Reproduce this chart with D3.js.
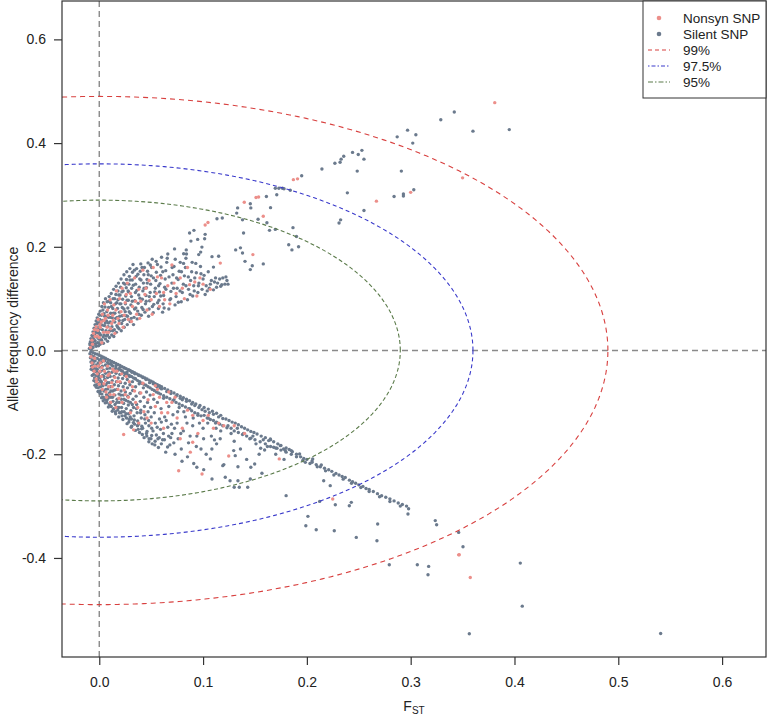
<!DOCTYPE html>
<html><head><meta charset="utf-8">
<script src="https://cdn.jsdelivr.net/npm/d3@7"></script>
<style>
body{margin:0;background:#fff;}
svg{display:block;font-family:"Liberation Sans",Arial,sans-serif;}
</style></head>
<body><svg id="chart" width="768" height="720"></svg>
<script>
// ---------- DATA ----------
const xTicks = [0.0, 0.1, 0.2, 0.3, 0.4, 0.5, 0.6];
const yTicks = [-0.4, -0.2, 0.0, 0.2, 0.4, 0.6];
const levelNames = ["99%", "97.5%", "95%"];
const levelRadii = [0.49, 0.36, 0.29];
const seriesNames = ["Nonsyn SNP", "Silent SNP"];

const silentUpper = [
[-.0095,.004],[-.009,.011],[-.0085,.017],[-.008,.023],[-.0075,.009],[-.007,.029],[-.0065,.016],[-.006,.036],[-.006,.006],[-.0055,.024],[-.005,.043],[-.005,.012],[-.0045,.031],[-.004,.05],[-.004,.019],[-.0035,.038],[-.003,.057],[-.003,.008],[-.0025,.026],[-.002,.045],[-.002,.063],[-.0015,.015],[-.001,.034],[-.001,.053],[-.0005,.07],[-.0005,.022],
[0,.041],[.0005,.06],[.0008,.012],[.001,.076],[.0012,.03],[.0015,.05],[.002,.068],[.0022,.02],[.0025,.085],[.003,.04],[.0032,.058],[.0035,.078],[.004,.014],[.004,.092],[.0045,.03],[.005,.048],[.0052,.066],[.0055,.084],[.006,.022],[.006,.1],[.0065,.038],[.007,.057],[.0072,.075],[.0075,.094],[.008,.018],[.008,.03],[.0085,.046],[.009,.064],[.009,.083],[.0095,.104],[.0098,.025],
[.010,.038],[.0105,.055],[.011,.072],[.011,.092],[.0115,.11],[.012,.03],[.0122,.046],[.0125,.063],[.013,.081],[.0133,.1],[.0138,.118],[.014,.027],[.0145,.04],[.015,.055],[.015,.072],[.0155,.09],[.016,.108],[.0162,.124],[.0165,.035],[.017,.048],[.0172,.064],[.0175,.081],[.018,.098],[.018,.115],[.0185,.13],[.019,.042],[.0192,.058],[.0195,.074],[.0198,.09],
[.020,.107],[.0205,.122],[.021,.138],[.0212,.038],[.0215,.052],[.022,.067],[.0222,.083],[.0225,.099],[.023,.115],[.0233,.13],[.0238,.146],[.024,.045],[.0245,.06],[.025,.075],[.0252,.09],[.0255,.105],[.026,.121],[.0262,.137],[.0265,.152],[.027,.05],[.0272,.066],[.0275,.082],[.028,.097],[.0282,.113],[.0285,.128],[.029,.143],[.0295,.158],[.0298,.056],
[.030,.072],[.0305,.088],[.031,.104],[.0312,.12],[.0318,.136],[.032,.151],[.0325,.166],[.033,.05],[.0335,.064],[.034,.08],[.0342,.096],[.0348,.112],[.035,.128],[.0355,.143],[.036,.158],[.0365,.061],[.037,.076],[.0375,.091],[.038,.107],[.0385,.122],[.039,.138],[.0395,.153],[.04,.167],[.0405,.068],[.041,.083],[.0415,.099],[.042,.115],[.0425,.13],[.043,.146],[.0435,.16],[.044,.074],[.0445,.09],
[.045,.106],[.0455,.121],[.046,.137],[.0465,.153],[.047,.169],[.0475,.066],[.048,.08],[.0485,.096],[.049,.112],[.0495,.128],[.05,.144],[.0505,.16],[.051,.176],[.052,.073],[.0525,.089],[.053,.104],[.054,.12],[.0545,.135],[.055,.151],[.056,.166],[.057,.081],[.0575,.097],[.058,.113],[.0585,.129],[.059,.145],[.0595,.161],
[.06,.18],[.061,.074],[.0615,.09],[.062,.106],[.063,.122],[.0635,.138],[.064,.154],[.065,.17],[.066,.186],[.067,.08],[.068,.098],[.069,.114],[.07,.13],[.071,.146],[.072,.162],[.0725,.196],[.073,.088],[.074,.104],[.075,.12],[.076,.137],[.077,.153],[.078,.17],[.079,.094],
[.08,.112],[.081,.128],[.082,.144],[.083,.16],[.084,.186],[.085,.098],[.086,.118],[.088,.135],[.089,.152],[.09,.105],[.091,.125],[.092,.14],[.093,.168],[.095,.112],[.096,.13],[.098,.148],[.099,.118],[.1,.138],
[.102,.108],[.103,.125],[.105,.152],[.106,.12],[.108,.135],[.11,.117],[.112,.14],[.114,.13],[.117,.124],[.119,.14],[.121,.128],[.123,.135],
[-.0088,.014],[-.0072,.004],[-.0062,.021],[-.0048,.027],[-.0036,.013],[-.0028,.035],[-.0018,.052],[-.0008,.009],[.0003,.033],[.0015,.021],[.0028,.049],[.0038,.026],[.0046,.071],[.0058,.053],[.0068,.028],[.0078,.066],[.0088,.053],[.0092,.095],[.0108,.064],[.0118,.085],[.0128,.038],[.0136,.072],[.0148,.1],[.0158,.062],[.0168,.092],[.0178,.045],[.0188,.107],[.0197,.066],[.0208,.09],[.0218,.113],[.0228,.058],[.0238,.08],[.0248,.128],[.0258,.067],[.0268,.097],[.0278,.115],[.0288,.075],[.0296,.136],[.0308,.062],[.0318,.095],[.0328,.126],[.0338,.155],[.0352,.082],[.0362,.116],[.0372,.147],[.0382,.07],[.0392,.101],[.0402,.136],[.0412,.16],[.0422,.079],[.0432,.12],[.0452,.095],[.0462,.13],[.0472,.146],[.0482,.104],[.0492,.165],[.0512,.085],[.0522,.14],[.0535,.113],[.0548,.172],[.0562,.092],[.0572,.125],[.0592,.105],[.0612,.152],[.0625,.082],[.0642,.118],[.0655,.178],[.0672,.142],[.0688,.1],[.0702,.16],[.0715,.12],[.0732,.176],[.0745,.14],[.0762,.093],[.0778,.115],[.0792,.152],[.0812,.168],[.0835,.125],[.0858,.142],[.0875,.108],[.0895,.17],[.0915,.115],[.0935,.15],[.0955,.125],[.0975,.162],[.101,.145],[.104,.115],[.107,.128],[.111,.132],[.113,.122],[.116,.138],[.118,.127],[.122,.142],[.124,.128]
];
const silentUpperFar = [
[.342,.46],[.329,.445],[.360,.423],[.395,.426],[.287,.412],[.297,.425],[.305,.416],[.302,.4],[.291,.346],[.303,.31],[.293,.302],[.293,.298],[.284,.297],[.255,.27],[.239,.304],[.2325,.252],[.231,.246],[.2485,.346],[.244,.382],[.2495,.378],[.253,.386],[.255,.369],[.2355,.3745],[.233,.369],[.232,.363],[.227,.361],[.2145,.35],[.195,.337],[.1696,.313],[.173,.313],[.1765,.313],[.178,.312],[.171,.3005],[.184,.309],[.161,.297],[.1455,.283],[.146,.275],[.1333,.275],[.1324,.265],[.165,.2755],[.138,.252],[.153,.253],[.1615,.2465],[.1696,.2336],[.164,.2317],[.1866,.2369],[.19,.22],[.1825,.204],[.1856,.194],[.192,.2],[.139,.2265],[.1314,.194],[.136,.198],[.138,.188],[.1404,.172],[.158,.167],[.1474,.1635],[.1455,.156],[.1134,.254],[.1185,.2555],[.0912,.2317],[.087,.2265],[.102,.224],[.1015,.2156],[.0948,.2143],[.0883,.211],[.1086,.181],[.115,.1817],[.11,.1609],[.0977,.1898],[.0958,.185],[.0989,.1994],[.0838,.194],[.0813,.1866],[.0835,.178]
];
const silentLower = [
[-.008,-.002],[-.006,-.004],[-.004,-.006],[-.002,-.007],[0,-.009],[.002,-.011],[.004,-.013],[.006,-.015],[.008,-.017],[.010,-.019],[.012,-.021],[.014,-.023],[.016,-.025],[.018,-.027],[.020,-.029],[.022,-.031],[.024,-.033],[.026,-.035],[.028,-.037],[.030,-.039],[.032,-.041],[.034,-.043],[.036,-.045],[.038,-.047],[.040,-.049],[.042,-.051],[.044,-.053],[.046,-.055],[.048,-.057],[.05,-.059],[.052,-.061],[.054,-.064],[.056,-.066],[.058,-.068],[.06,-.07],[.063,-.073],[.066,-.076],[.069,-.079],[.072,-.082],[.075,-.085],[.078,-.088],[.081,-.091],[.084,-.094],[.087,-.097],[.09,-.1],[.093,-.103],[.097,-.106],[.101,-.11],[.105,-.113],[.109,-.117],[.113,-.121],[.117,-.125],
[-.009,-.006],[-.0085,-.014],[-.008,-.022],[-.0075,-.03],[-.007,-.01],[-.0065,-.018],[-.006,-.038],[-.006,-.026],[-.0055,-.046],[-.005,-.012],[-.005,-.033],[-.0045,-.053],[-.004,-.02],[-.004,-.04],[-.0035,-.06],[-.003,-.028],[-.003,-.048],[-.0025,-.066],[-.002,-.015],[-.002,-.036],[-.0015,-.056],[-.001,-.072],[-.001,-.024],[-.0005,-.044],[-.0005,-.064],
[0,-.018],[.0003,-.032],[.0006,-.052],[.001,-.078],[.0012,-.07],[.0015,-.04],[.002,-.06],[.0022,-.022],[.0025,-.084],[.003,-.03],[.0032,-.048],[.0035,-.068],[.004,-.09],[.0042,-.038],[.0045,-.078],[.005,-.02],[.0052,-.056],[.0055,-.094],[.006,-.028],[.006,-.044],[.0065,-.066],[.007,-.085],[.0072,-.1],[.0075,-.035],[.008,-.052],[.0082,-.074],[.0085,-.092],[.009,-.026],[.009,-.042],[.0095,-.062],[.0098,-.104],[.0099,-.082],
[.0102,-.034],[.0105,-.05],[.011,-.07],[.0112,-.09],[.0115,-.108],[.012,-.028],[.0122,-.042],[.0125,-.058],[.013,-.078],[.0132,-.098],[.0135,-.113],[.014,-.036],[.0142,-.05],[.0145,-.066],[.015,-.086],[.0152,-.104],[.0155,-.118],[.016,-.03],[.0162,-.044],[.0165,-.06],[.017,-.075],[.0172,-.094],[.0175,-.11],[.018,-.038],[.0182,-.053],[.0185,-.068],[.019,-.084],[.0192,-.1],[.0195,-.12],[.0198,-.046],
[.0202,-.032],[.0205,-.062],[.021,-.078],[.0212,-.094],[.0215,-.11],[.022,-.126],[.0222,-.04],[.0225,-.054],[.023,-.07],[.0232,-.086],[.0235,-.102],[.024,-.118],[.0242,-.034],[.0245,-.048],[.025,-.063],[.0252,-.08],[.0255,-.096],[.026,-.112],[.0262,-.13],[.0265,-.042],[.027,-.056],[.0272,-.072],[.0275,-.088],[.028,-.105],[.0282,-.122],[.0285,-.138],[.029,-.038],[.0292,-.05],[.0295,-.066],[.0298,-.083],
[.030,-.1],[.0305,-.116],[.031,-.132],[.0312,-.146],[.0315,-.042],[.032,-.06],[.0322,-.077],[.0325,-.094],[.033,-.11],[.0335,-.126],[.034,-.142],[.0342,-.045],[.0345,-.054],[.035,-.07],[.0355,-.088],[.036,-.104],[.0365,-.12],[.037,-.136],[.0375,-.152],[.038,-.048],[.0385,-.064],[.039,-.082],[.0395,-.098],[.04,-.115],[.0405,-.13],[.041,-.146],[.0415,-.162],[.042,-.052],[.0425,-.072],[.043,-.09],[.0435,-.108],[.044,-.124],[.0445,-.14],
[.045,-.056],[.0455,-.08],[.046,-.156],[.0465,-.1],[.047,-.118],[.0475,-.135],[.048,-.17],[.0485,-.062],[.049,-.086],[.0495,-.11],[.05,-.128],[.0505,-.15],[.051,-.18],[.052,-.064],[.0525,-.094],[.053,-.12],[.054,-.14],[.055,-.163],[.0555,-.07],[.056,-.1],[.057,-.187],[.058,-.132],[.0585,-.072],[.059,-.152],[.0595,-.112],
[.06,-.074],[.061,-.172],[.062,-.092],[.063,-.128],[.064,-.196],[.065,-.079],[.066,-.148],[.067,-.108],[.068,-.182],[.069,-.083],[.07,-.16],[.071,-.124],[.072,-.095],[.073,-.2],[.074,-.088],[.075,-.14],[.076,-.17],[.077,-.11],[.078,-.092],[.079,-.19],
[.08,-.095],[.081,-.155],[.083,-.128],[.084,-.098],[.085,-.205],[.086,-.178],[.087,-.112],[.089,-.103],[.09,-.145],[.091,-.218],[.092,-.106],[.094,-.165],[.095,-.125],[.096,-.11],[.098,-.19],[.099,-.114],[.1,-.15],[.102,-.117],[.103,-.2],[.105,-.13],[.106,-.12],[.108,-.165],[.11,-.123],[.112,-.14],[.113,-.18],[.115,-.128],[.117,-.155],[.119,-.131],[.12,-.22],
[.122,-.132],[.124,-.145],[.125,-.135],[.127,-.16],[.128,-.138],[.13,-.175],[.131,-.14],[.133,-.15],[.134,-.143],[.136,-.19],[.137,-.147],[.139,-.16],[.14,-.15],[.142,-.21],[.143,-.153],[.145,-.17],[.146,-.156],[.148,-.165],[.149,-.158],[.151,-.18],[.152,-.161],[.154,-.2],[.156,-.165],[.158,-.172],[.16,-.168],[.162,-.185],[.165,-.172],[.168,-.176],[.17,-.2],[.172,-.18],[.175,-.183],[.178,-.21],[.18,-.188],[.183,-.191],[.186,-.195],[.19,-.2],[.194,-.205],[.197,-.208],
[.2,-.21],[.205,-.213],[.209,-.22],[.213,-.224],[.217,-.227],[.221,-.23],[.224,-.233],[.228,-.237],[.231,-.24],[.234,-.243],[.237,-.245],[.241,-.25],[.244,-.253],[.247,-.256],[.25,-.259],[.254,-.262],[.257,-.266],[.26,-.268],[.264,-.272],[.268,-.276],[.272,-.28],[.276,-.283],[.28,-.286],[.284,-.29],[.288,-.294],[.292,-.297],[.296,-.3],[.298,-.305],
[.002,-.016],[.005,-.019],[.008,-.023],[.011,-.025],[.013,-.03],[.016,-.034],[.019,-.035],[.021,-.038],[.023,-.042],[.025,-.044],[.027,-.046],[.029,-.048],[.031,-.05],[.033,-.053],[.035,-.055],[.037,-.058],[.039,-.06],[.041,-.063],[.043,-.065],[.045,-.067],[.047,-.07],[.049,-.072],[.051,-.075],[.053,-.077],[.055,-.08],[.057,-.082],[.059,-.084],[.062,-.087],[.065,-.09],[.068,-.093],[.071,-.097],[.074,-.1],[.077,-.103],[.08,-.106],[.083,-.109],[.086,-.112],[.089,-.116],[.092,-.12],[.095,-.122],[.098,-.126],[.101,-.125],[.104,-.13],[.107,-.133],[.11,-.135],[.113,-.138],[.116,-.142],[.119,-.145],[.123,-.149],[.127,-.15],[.13,-.155],[.134,-.158],[.138,-.162],[.142,-.165],[.146,-.169],[.15,-.172],[.155,-.176],[.16,-.18],[.165,-.185],[.17,-.188],[.175,-.192],[.18,-.196],[.185,-.2],[.19,-.205],[.196,-.212],[.203,-.218],[.21,-.224],[.218,-.232],[.226,-.24],[.235,-.248],[.243,-.256],[.252,-.264],[.26,-.272],[.27,-.282],[.28,-.291],[.29,-.3],
[-.0078,-.036],[-.0068,-.048],[-.0052,-.058],[-.0042,-.067],[-.0028,-.071],[-.0012,-.079],[.0008,-.083],[.0022,-.091],[.0038,-.097],[.0058,-.101],[.0072,-.096],[.0088,-.109],[.0108,-.1],[.0125,-.117],[.0142,-.112],[.0158,-.122],[.0178,-.115],[.0188,-.128],[.0208,-.12],[.0228,-.133],[.0248,-.126],[.0268,-.141],[.0288,-.133],[.0308,-.148],[.0328,-.139],[.0348,-.154],[.0368,-.145],[.0388,-.158],[.0408,-.151],[.0432,-.168],[.0455,-.16],[.0478,-.176],[.0505,-.164],[.0535,-.182],[.0565,-.17],[.0598,-.18],[.0628,-.172],[.0658,-.186],[.0688,-.168],[.0718,-.178],
[-.0058,-.022],[-.0038,-.034],[-.0022,-.042],[-.0008,-.05],[.0012,-.058],[.0028,-.064],[.0045,-.05],[.0062,-.075],[.0078,-.062],[.0092,-.088],[.0112,-.078],[.0128,-.09],[.0148,-.076],[.0168,-.1],[.0188,-.11],[.0208,-.086],[.0218,-.118],[.0238,-.094],[.0258,-.122],[.0278,-.098],[.0298,-.128],[.0318,-.104],[.0338,-.134],[.0358,-.112],[.0378,-.142],[.0398,-.12],[.0418,-.15],[.0438,-.132],[.0458,-.165],[.0478,-.145],[.0498,-.17],[.0518,-.155],[.0538,-.175],[.0558,-.148],[.0578,-.168],[.0598,-.138],[.0618,-.16],[.0645,-.135],[.0668,-.165],[.0695,-.142],[.0725,-.15],[.0755,-.118],[.0785,-.16],[.0815,-.118],[.0845,-.14],[.0875,-.165],[.0905,-.13],[.0935,-.185],[.0965,-.14],[.1005,-.17],[.1045,-.14],[.1085,-.19],[.1125,-.15],[.1165,-.17]
];
const silentLowerFar = [
[.0797,-.2136],[.094,-.225],[.1006,-.2297],[.107,-.209],[.1086,-.2477],[.111,-.1724],[.119,-.222],[.1214,-.2445],[.126,-.251],[.1295,-.193],[.131,-.2027],[.1336,-.224],[.13,-.2638],[.1349,-.2638],[.143,-.2638],[.1336,-.251],[.1455,-.2477],[.146,-.225],[.1497,-.2188],[.1567,-.2368],[.1555,-.1885],[.1593,-.1917],[.1632,-.1737],[.1648,-.1705],[.168,-.1866],[.1712,-.1885],[.1744,-.1834],[.1776,-.1898],[.1792,-.193],[.185,-.193],[.18,-.2799],[.193,-.1995],[.1985,-.2156],[.205,-.2156],[.2056,-.209],[.2139,-.2207],[.201,-.3198],[.199,-.3378],[.209,-.3456],[.2123,-.2909],[.2162,-.251],[.2225,-.2606],[.2274,-.2973],[.2264,-.3475],[.2428,-.2928],[.2409,-.2992],[.2476,-.3604],[.2682,-.3346],[.2675,-.3668],[.2794,-.4131],[.2974,-.3153],[.3064,-.4131],[.3173,-.4163],[.3167,-.4324],[.3237,-.328],[.325,-.3359],[.3462,-.3507],[.3504,-.3784],[.4056,-.4099],[.4075,-.4929],[.3565,-.5463],[.5408,-.5458]
];
const nonsynUpper = [
[-.0085,.006],[-.007,.02],[-.0055,.033],[-.004,.027],[-.003,.046],[-.0015,.039],[-.001,.06],[0,.025],[.001,.045],[.002,.055],[.003,.07],[.004,.035],[.005,.09],[.006,.062],[.0075,.045],[.008,.078],[.009,.035],[.0105,.098],[.012,.052],[.013,.068],[.014,.088],[.015,.033],[.0165,.115],[.018,.062],[.0195,.1],[.021,.075],[.022,.12],[.023,.045],[.025,.092],[.027,.13],[.028,.06],[.03,.11],[.032,.085],[.034,.14],[.036,.07],[.038,.118],[.04,.095],[.042,.155],[.044,.108],[.046,.078],[.048,.135],[.05,.098],[.052,.16],[.055,.11],[.058,.085],[.06,.14],[.063,.098],[.066,.125],[.07,.165],[.074,.11],[.078,.14],[.082,.1],[.087,.127],[.094,.105],[.1,.128],[.107,.118],
[-.0065,.012],[-.0045,.04],[-.002,.028],[.0005,.05],[.0025,.015],[.0045,.058],[.007,.035],[.0085,.068],[.011,.042],[.0135,.058],[.016,.078],[.019,.052],[.024,.068],[.026,.108],[.031,.056],[.035,.095],[.039,.062],[.045,.12],[.051,.07],[.056,.142],[.062,.112],[.068,.09],[.072,.13],[.08,.12],[.085,.16],[.092,.132],[.097,.14],
[.381,.478],[.35,.333],[.3,.305],[.267,.288],[.187,.3295],[.191,.331],[.158,.259],[.151,.295],[.1535,.296],[.1397,.286],[.148,.185],[.1166,.1686],[.102,.242],[.1047,.247]
];
const nonsynLower = [
[-.008,-.012],[-.007,-.024],[-.005,-.04],[-.004,-.03],[-.003,-.055],[-.002,-.045],[-.001,-.03],[0,-.065],[.001,-.024],[.002,-.05],[.003,-.075],[.004,-.02],[.005,-.04],[.006,-.058],[.007,-.09],[.008,-.03],[.009,-.07],[.01,-.045],[.011,-.1],[.012,-.062],[.013,-.036],[.014,-.085],[.015,-.052],[.016,-.11],[.017,-.04],[.018,-.075],[.019,-.092],[.02,-.06],[.022,-.1],[.024,-.076],[.026,-.05],[.028,-.09],[.03,-.12],[.032,-.07],[.035,-.1],[.038,-.14],[.04,-.082],[.043,-.118],[.047,-.095],[.05,-.14],[.054,-.108],[.058,-.09],[.062,-.15],[.066,-.12],[.07,-.1],[.075,-.13],[.08,-.15],[.085,-.115],[.09,-.125],[.1,-.135],[.11,-.15],[.12,-.145],
[-.0065,-.032],[-.0045,-.015],[-.0025,-.06],[.0005,-.04],[.0025,-.033],[.0045,-.064],[.0065,-.08],[.0085,-.048],[.0105,-.085],[.0125,-.07],[.0145,-.04],[.0175,-.06],[.0215,-.045],[.025,-.085],[.029,-.06],[.034,-.078],[.037,-.11],[.042,-.063],[.046,-.13],[.052,-.085],[.056,-.075],[.06,-.12],[.065,-.1],[.073,-.09],[.078,-.17],[.095,-.16],[.105,-.125],[.115,-.14],[.13,-.145],[.14,-.16],[.054,-.068],[.067,-.08],
[.0235,-.162],[.0331,-.153],[.0765,-.2317],[.099,-.238],[.09,-.177],[.0877,-.196],[.1247,-.2033],[.1734,-.209],[.2249,-.2863],[.3462,-.394],[.3574,-.4376],[.3468,-.3938]
];

const silentSNP = silentUpper.concat(silentUpperFar, silentLower, silentLowerFar);
const nonsynSNP = nonsynUpper.concat(nonsynLower);

// ---------- STYLE ----------
const colNonsyn = "#ec8f8a";
const colSilent = "#6b7a8d";
const levelColors = ["#d8403f", "#3a3acb", "#5b7b4a"];
const levelDash = ["5,4", "4,3", "4,2.5"];
const legendDash = ["4,3", "1.5,2,4,2", "5,2,1.5,2"];

const svg = d3.select("#chart");
const L = 62, R = 766, T = 1, B = 657;
const x = d3.scaleLinear().domain([-0.0359, 0.6423]).range([L, R]);
const y = d3.scaleLinear().domain([-0.591, 0.674]).range([B, T]);

svg.append("defs").append("clipPath").attr("id", "clip")
  .append("rect").attr("x", L).attr("y", T).attr("width", R - L).attr("height", B - T);

const plot = svg.append("g").attr("clip-path", "url(#clip)");

// reference lines
plot.append("line").attr("x1", x(0)).attr("x2", x(0)).attr("y1", T).attr("y2", B)
  .attr("stroke", "#8a8a8a").attr("stroke-width", 1.4).attr("stroke-dasharray", "6,4");
plot.append("line").attr("x1", L).attr("x2", R).attr("y1", y(0)).attr("y2", y(0))
  .attr("stroke", "#8a8a8a").attr("stroke-width", 1.4).attr("stroke-dasharray", "6,4");

// points
const ptR = 1.7;
plot.append("g").selectAll("circle").data(silentSNP).join("circle")
  .attr("cx", d => x(d[0])).attr("cy", d => y(d[1])).attr("r", ptR).attr("fill", colSilent);
plot.append("g").selectAll("circle").data(nonsynSNP).join("circle")
  .attr("cx", d => x(d[0])).attr("cy", d => y(d[1])).attr("r", ptR).attr("fill", colNonsyn);

// probability contours (circles of radius r in data units)
const angles = d3.range(0, 361, 1).map(a => a * Math.PI / 180);
const lineGen = d3.line().x(d => x(d[0])).y(d => y(d[1]));
levelRadii.forEach((r, i) => {
  plot.append("path")
    .attr("d", lineGen(angles.map(a => [r * Math.cos(a), r * Math.sin(a)])))
    .attr("fill", "none").attr("stroke", levelColors[i]).attr("stroke-width", 1.1)
    .attr("stroke-dasharray", levelDash[i]);
});

// box
svg.append("rect").attr("x", L).attr("y", T).attr("width", R - L).attr("height", B - T)
  .attr("fill", "none").attr("stroke", "#333").attr("stroke-width", 1.2);

// axes
const fmt = d3.format(".1f");
const xAxis = svg.append("g").attr("transform", `translate(0,${B})`)
  .call(d3.axisBottom(x).tickValues(xTicks).tickSize(8).tickPadding(12).tickFormat(fmt));
const yAxis = svg.append("g").attr("transform", `translate(${L},0)`)
  .call(d3.axisLeft(y).tickValues(yTicks).tickSize(8).tickPadding(8));
[xAxis, yAxis].forEach(a => {
  a.select(".domain").remove();
  a.selectAll(".tick line").attr("stroke", "#333").attr("stroke-width", 1.2);
  a.selectAll(".tick text").attr("fill", "#222").style("font-size", "14px")
    .style("font-family", "Liberation Sans, Arial, sans-serif");
});
yAxis.selectAll(".tick text").text(d => Math.abs(d) < 1e-9 ? "0.0" : (d < 0 ? "-" + fmt(-d) : fmt(d)));

// axis titles
const xt = svg.append("text").attr("x", (L + R) / 2).attr("y", 711).attr("text-anchor", "middle")
  .attr("fill", "#222").style("font-size", "14px");
xt.append("tspan").text("F");
xt.append("tspan").attr("dy", 3).style("font-size", "10px").text("ST");

svg.append("text").attr("transform", `translate(18,${(T + B) / 2}) rotate(-90)`)
  .attr("text-anchor", "middle").attr("fill", "#222").style("font-size", "14px")
  .text("Allele frequency difference");

// legend
const lg = svg.append("g");
lg.append("rect").attr("x", 643).attr("y", T).attr("width", R - 643).attr("height", 97)
  .attr("fill", "#fff").attr("stroke", "#333").attr("stroke-width", 1);
const rowsY = [18, 34, 50, 66, 82];
lg.append("circle").attr("cx", 659).attr("cy", rowsY[0]).attr("r", 2.3).attr("fill", colNonsyn);
lg.append("circle").attr("cx", 659).attr("cy", rowsY[1]).attr("r", 2.3).attr("fill", colSilent);
seriesNames.forEach((n, i) => {
  lg.append("text").attr("x", 683).attr("y", rowsY[i]).attr("dy", "0.35em")
    .attr("fill", "#222").style("font-size", "13.5px").text(n);
});
levelNames.forEach((n, i) => {
  const yy = rowsY[i + 2];
  lg.append("line").attr("x1", 648).attr("x2", 670).attr("y1", yy).attr("y2", yy)
    .attr("stroke", levelColors[i]).attr("stroke-width", 1.1).attr("stroke-dasharray", legendDash[i]);
  lg.append("text").attr("x", 683).attr("y", yy).attr("dy", "0.35em")
    .attr("fill", "#222").style("font-size", "13.5px").text(n);
});
</script>
</body></html>
